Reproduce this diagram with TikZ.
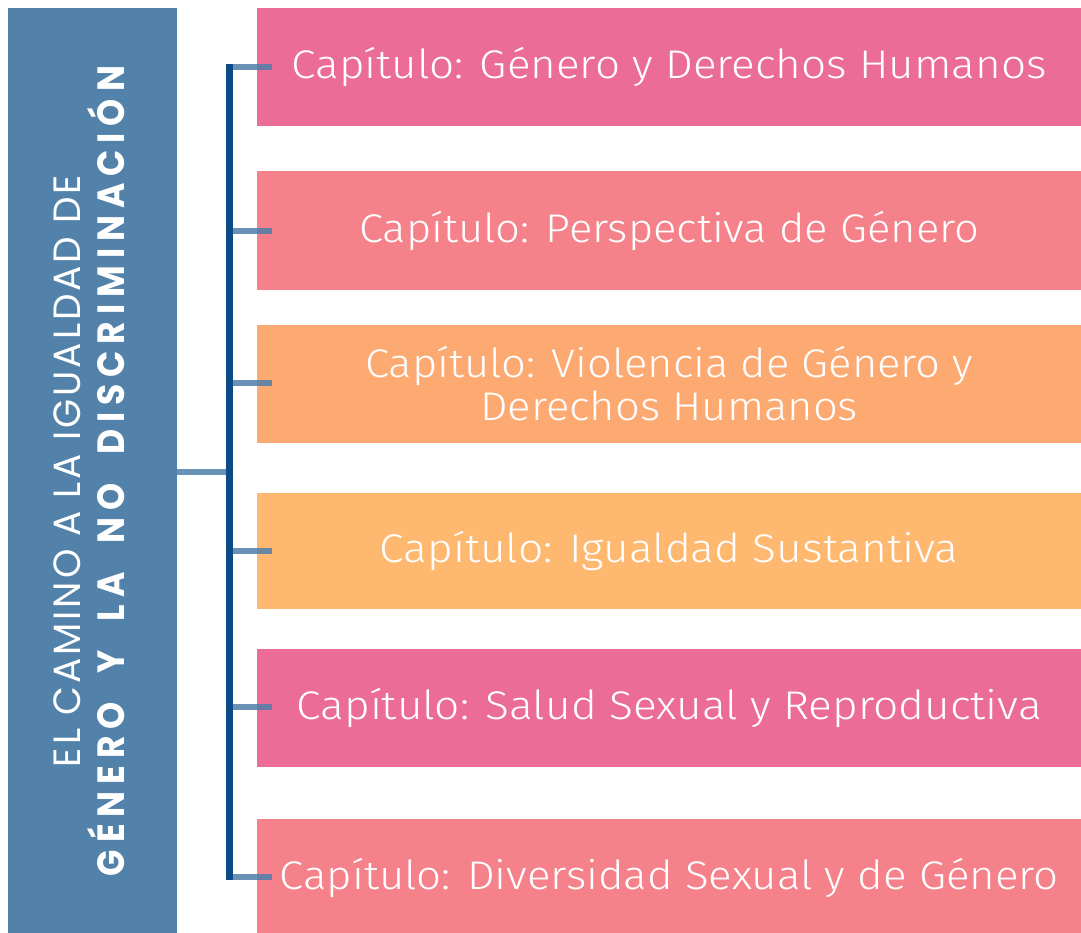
\documentclass[tikz,border=0pt]{standalone}
\usepackage{fontspec}
\usepackage{graphicx}
\setmainfont{Fira Sans}
\newfontfamily\chapfont{Fira Sans Light}
\newfontfamily\titlefont[LetterSpace=8]{Poppins}
\newfontfamily\titleboldfont[LetterSpace=20]{Poppins}
\definecolor{titleblue}{HTML}{5281A9}
\definecolor{bracketblue}{HTML}{0B4C86}
\definecolor{stemblue}{HTML}{4F7FAA}
\definecolor{cpink}{HTML}{EC6C98}
\definecolor{csalmon}{HTML}{F5828A}
\definecolor{corange}{HTML}{FDA972}
\definecolor{clorange}{HTML}{FEB86F}
\newcommand{\fitw}[2]{\resizebox{#1}{\height}{#2}}
\newcommand{\wsp}{\hspace{16pt} }
\begin{document}
\begin{tikzpicture}[x=1pt,y=-1pt,
  chapbox/.style={rectangle, inner sep=0pt, minimum width=824pt, anchor=west,
    text=white, font=\chapfont\fontsize{40}{45}\selectfont, align=center},
  titlebg/.style={rectangle, inner sep=0pt, fill=titleblue, minimum width=169pt, minimum height=925pt},
  titletext/.style={inner sep=0pt, text=white, rotate=90, align=center},
  tickline/.style={draw=stemblue, line width=6pt, opacity=0.85},
  bracketline/.style={draw=bracketblue, line width=7pt}]
\useasboundingbox (0,0) rectangle (1081,933);
\fill[white] (0,0) rectangle (1081,933);
% title block
\node[titlebg] (title) at (92.5,470.5) {};
\node[titletext] (titletxt) at (89,471) {%
  \fitw{592pt}{\titlefont\fontsize{38}{55}\selectfont EL CAMINO A LA IGUALDAD DE}\\[6pt]
  \fitw{810pt}{\titleboldfont\bfseries\fontsize{38}{55}\selectfont GÉNERO\wsp Y\wsp LA\wsp NO\wsp DISCRIMINACIÓN}};
% chapter boxes
\node[chapbox, fill=cpink, minimum height=118pt] (c1) at (257,67) {\fitw{755pt}{Capítulo: Género y Derechos Humanos}};
\node[chapbox, fill=csalmon, minimum height=119pt] (c2) at (257,230.5) {\fitw{620pt}{Capítulo: Perspectiva de Género}};
\node[chapbox, fill=corange, minimum height=118pt] (c3) at (257,384) {\fitw{608pt}{Capítulo: Violencia de Género y}\\[-2pt]\fitw{378pt}{Derechos Humanos}};
\node[chapbox, fill=clorange, minimum height=116pt] (c4) at (257,551) {\fitw{579pt}{Capítulo: Igualdad Sustantiva}};
\node[chapbox, fill=cpink, minimum height=118pt] (c5) at (257,708) {\fitw{745pt}{Capítulo: Salud Sexual y Reproductiva}};
\node[chapbox, fill=csalmon, minimum height=118pt] (c6) at (257,878) {\fitw{779pt}{Capítulo: Diversidad Sexual y de Género}};
% bracket
\coordinate (btop) at (229,64);
\coordinate (bbot) at (229,880);
\coordinate (bmid) at (229,472);
\draw[tickline] (title.east |- bmid) -- (bmid);
\foreach \c/\yy in {c1/67,c2/231,c3/383,c4/551,c5/707,c6/877}{
  \coordinate (t\c) at (229,\yy);
  \draw[tickline] (t\c) -- ([xshift=15pt]\c.west |- t\c);
}
\draw[bracketline] (btop) -- (bbot);
\end{tikzpicture}
\end{document}
